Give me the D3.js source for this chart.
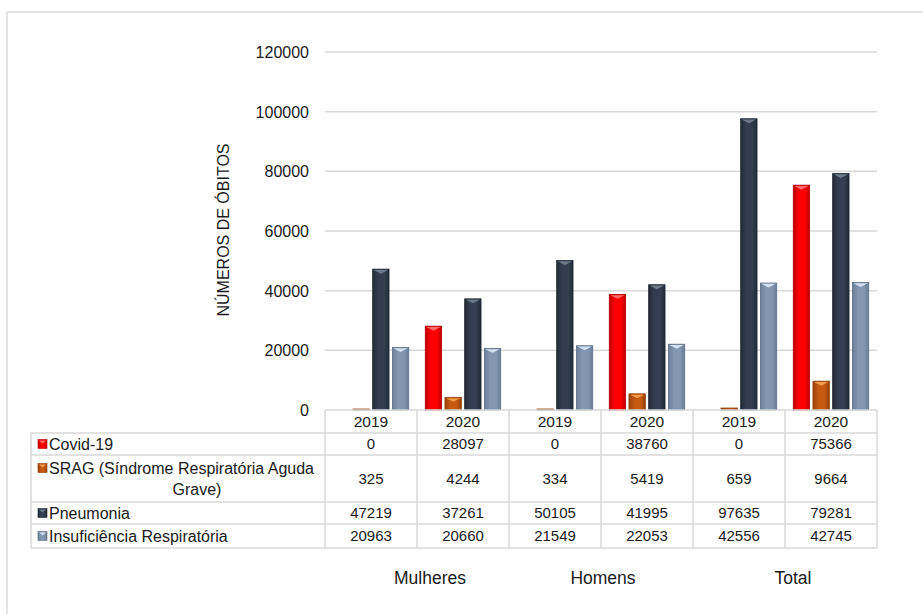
<!DOCTYPE html>
<html>
<head>
<meta charset="utf-8">
<script src="https://cdn.jsdelivr.net/npm/d3@7"></script>
<style>
  html, body { margin: 0; padding: 0; background: #fff; }
  svg { display: block; font-family: Arial, "Liberation Sans", sans-serif; }
</style>
</head>
<body>
<svg id="chart" width="923" height="614"></svg>
<script>
// Deaths by cause, sex and year
const groups = ["Mulheres", "Homens", "Total"];
const years = ["2019", "2020"];
const seriesNames = ["Covid-19", "SRAG (Síndrome Respiratória Aguda Grave)", "Pneumonia", "Insuficiência Respiratória"];
const seriesLines = [["Covid-19"], ["SRAG (Síndrome Respiratória Aguda", "Grave)"], ["Pneumonia"], ["Insuficiência Respiratória"]];
const covid19 = [0, 28097, 0, 38760, 0, 75366];
const srag = [325, 4244, 334, 5419, 659, 9664];
const pneumonia = [47219, 37261, 50105, 41995, 97635, 79281];
const insuficiencia = [20963, 20660, 21549, 22053, 42556, 42745];
const yTicks = [0, 20000, 40000, 60000, 80000, 100000, 120000];
const yTitle = "NÚMEROS DE ÓBITOS";

const seriesValues = [covid19, srag, pneumonia, insuficiencia];
const colors = [
  { base: "#ff0000", dark: "#c00000", edge: "#b30000", cap: "#ff6a6a" },
  { base: "#c55a11", dark: "#9a4208", edge: "#8a3a06", cap: "#f39a48" },
  { base: "#333f50", dark: "#222b38", edge: "#1c242f", cap: "#6f7a8a" },
  { base: "#8497b0", dark: "#6b7e97", edge: "#5d6f86", cap: "#d2e0f2" }
];

// one column per group/year pair
const columns = [];
groups.forEach(g => years.forEach(y => columns.push({ group: g, year: y })));

const svg = d3.select("#chart");
const ink = "#1a1a1a";
const gridColor = "#d9d9d9";

// outer frame (top and left edges visible)
svg.append("path")
  .attr("d", "M7,614 L7,12 L923,12")
  .attr("fill", "none").attr("stroke", "#dcdcdc").attr("stroke-width", 1.5);

const plotLeft = 325, plotRight = 877;
const y = d3.scaleLinear().domain([0, 120000]).range([410, 52]);
const x0 = d3.scaleBand().domain(d3.range(columns.length)).range([plotLeft, plotRight]).padding(0);
const x1 = d3.scaleBand().domain(d3.range(seriesNames.length)).range([0, x0.bandwidth()])
  .paddingInner(0.17).paddingOuter(0.42);

// gradients for the bevelled bars
const defs = svg.append("defs");
colors.forEach((c, i) => {
  const g = defs.append("linearGradient").attr("id", "grad" + i)
    .attr("x1", "0").attr("x2", "1").attr("y1", "0").attr("y2", "0");
  g.append("stop").attr("offset", "0").attr("stop-color", c.dark);
  g.append("stop").attr("offset", "0.35").attr("stop-color", c.base);
  g.append("stop").attr("offset", "0.7").attr("stop-color", c.base);
  g.append("stop").attr("offset", "1").attr("stop-color", c.dark);
});

// gridlines
svg.append("g").selectAll("line").data(yTicks.filter(t => t > 0)).join("line")
  .attr("x1", plotLeft).attr("x2", plotRight)
  .attr("y1", d => y(d)).attr("y2", d => y(d))
  .attr("stroke", gridColor).attr("stroke-width", 1.5);

// y axis labels
const yAxis = d3.axisLeft(y).tickValues(yTicks).tickSize(0).tickPadding(0).tickFormat(d3.format("d"));
const ya = svg.append("g").attr("transform", "translate(309,0)").call(yAxis);
ya.select(".domain").remove();
ya.selectAll("text").attr("font-size", 16).attr("fill", ink)
  .attr("font-family", "Arial, 'Liberation Sans', sans-serif").attr("dy", "0.35em");

svg.append("text")
  .attr("transform", "translate(229,230) rotate(-90)")
  .attr("text-anchor", "middle").attr("font-size", 16).attr("fill", ink)
  .text(yTitle);

// bars
const bars = svg.append("g");
columns.forEach((col, ci) => {
  seriesValues.forEach((vals, si) => {
    const v = vals[ci];
    if (v <= 0) return;
    const bx = x0(ci) + x1(si);
    const bw = x1.bandwidth();
    const by = y(v);
    const bh = y(0) - by;
    const c = colors[si];
    bars.append("rect")
      .attr("x", bx).attr("y", by).attr("width", bw).attr("height", bh)
      .attr("fill", "url(#grad" + si + ")")
      .attr("stroke", c.edge).attr("stroke-width", 0.8);
    if (bh > 5) {
      bars.append("path")
        .attr("d", `M${bx + 1},${by + 0.8} L${bx + bw - 1},${by + 0.8} L${bx + bw / 2},${by + 4.5} Z`)
        .attr("fill", c.cap);
    }
  });
});

// data table
const tableLeft = 31;
const headerTop = 410, headerBottom = 433;
const rowEdges = [433, 455, 502, 524, 548];
const table = svg.append("g");
const line = (x1p, y1p, x2p, y2p) => table.append("line")
  .attr("x1", x1p).attr("y1", y1p).attr("x2", x2p).attr("y2", y2p)
  .attr("stroke", gridColor).attr("stroke-width", 1.5);

line(plotLeft, headerTop, plotRight, headerTop);
rowEdges.forEach(e => line(tableLeft, e, plotRight, e));
line(tableLeft, rowEdges[0], tableLeft, rowEdges[rowEdges.length - 1]);
d3.range(columns.length + 1).forEach(i => {
  const xx = i < columns.length ? x0(i) : plotRight;
  line(xx, headerTop, xx, rowEdges[rowEdges.length - 1]);
});

// year header
table.selectAll("text.year").data(columns).join("text")
  .attr("class", "year")
  .attr("x", (d, i) => x0(i) + x0.bandwidth() / 2)
  .attr("y", (headerTop + headerBottom) / 2)
  .attr("dy", "0.36em").attr("text-anchor", "middle")
  .attr("font-size", 15.5).attr("fill", ink)
  .text(d => d.year);

// series rows
seriesNames.forEach((name, si) => {
  const top = rowEdges[si], bottom = rowEdges[si + 1];
  const mid = (top + bottom) / 2;
  const lines = seriesLines[si];
  const c = colors[si];
  const lineGap = 21;
  const firstY = mid - (lines.length - 1) * lineGap / 2;

  // legend key
  const kx = 38, ky = firstY - 4.5;
  table.append("rect").attr("x", kx).attr("y", ky).attr("width", 9).attr("height", 9)
    .attr("fill", "url(#grad" + si + ")").attr("stroke", c.edge).attr("stroke-width", 0.6);
  table.append("path")
    .attr("d", `M${kx + 1},${ky + 1} L${kx + 8},${ky + 1} L${kx + 4.5},${ky + 4} Z`)
    .attr("fill", c.cap);

  lines.forEach((t, li) => {
    const txt = table.append("text")
      .attr("y", firstY + li * lineGap).attr("dy", "0.36em")
      .attr("font-size", 16).attr("fill", ink).text(t);
    if (li === 0) txt.attr("x", 49).attr("text-anchor", "start");
    else txt.attr("x", 197).attr("text-anchor", "middle");
  });

  seriesValues[si].forEach((v, ci) => {
    table.append("text")
      .attr("x", x0(ci) + x0.bandwidth() / 2).attr("y", mid).attr("dy", "0.36em")
      .attr("text-anchor", "middle").attr("font-size", 15).attr("fill", ink)
      .text(v);
  });
});

// group labels, nudged from each group's centre
const groupLabelNudge = [13, 2, 8];
svg.append("g").selectAll("text").data(groups).join("text")
  .attr("x", (g, gi) => x0(gi * years.length) + x0.bandwidth() + groupLabelNudge[gi])
  .attr("y", 578).attr("dy", "0.36em").attr("text-anchor", "middle")
  .attr("font-size", 17.5).attr("fill", ink)
  .text(g => g);
</script>
</body>
</html>
